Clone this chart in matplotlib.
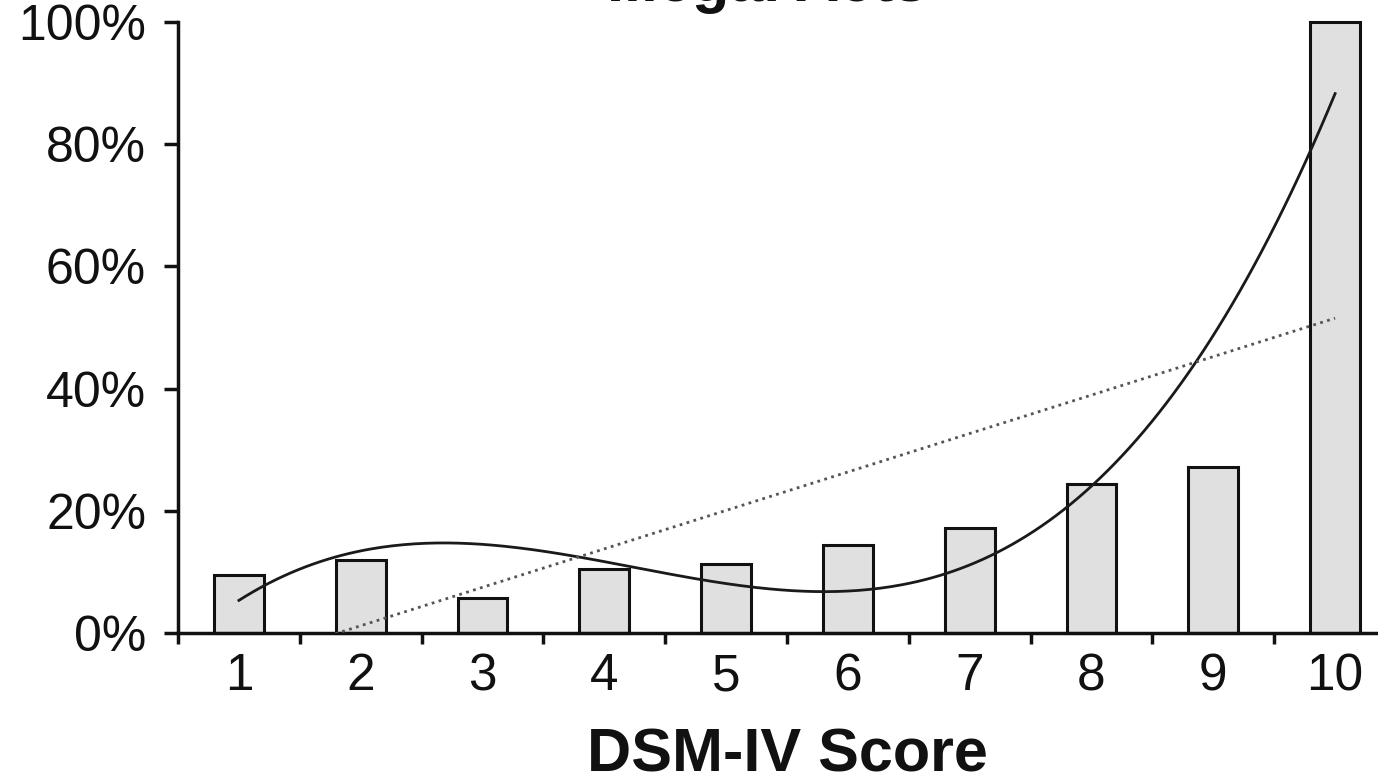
import numpy as np
import matplotlib.pyplot as plt
from matplotlib.ticker import FixedLocator, FuncFormatter

plt.rcParams['font.family'] = ['Liberation Sans', 'DejaVu Sans']

# data
scores = [1, 2, 3, 4, 5, 6, 7, 8, 9, 10]
share = [9.5, 11.9, 5.7, 10.5, 11.3, 14.4, 17.2, 24.4, 27.2, 100.0]  # percent
title = "Illegal Acts"
xlabel = "DSM-IV Score"

W, H = 1378, 783
fig = plt.figure(figsize=(W / 100, H / 100), dpi=100)

# axes runs past the right edge like in the cropped original
ax = fig.add_axes([178 / W, (H - 633) / H, (1396 - 178) / W, (633 - 22) / H])

x = np.array(scores, dtype=float)
y = np.array(share) / 100.0

ax.bar(x, y, width=0.41, color='#e0e0e0', edgecolor='#111111',
       linewidth=2.2, clip_on=False, zorder=2)

# trend lines (excel style): cubic polynomial + linear
xs = np.linspace(1, 10, 300)
cubic = np.polyval(np.polyfit(x, y, 3), xs)
lin = np.polyval(np.polyfit(x, y, 1), xs)
ax.plot(xs, cubic, color='#1a1a1a', linewidth=2.0, zorder=3)
ax.plot(xs, lin, color='#555555', linewidth=2.0, linestyle=(0, (1, 1.6)), zorder=3)

ax.set_xlim(0.5, 10.5)
ax.set_ylim(0, 1.0)

for s in ['top', 'right']:
    ax.spines[s].set_visible(False)
for s in ['left', 'bottom']:
    ax.spines[s].set_linewidth(2.5)
    ax.spines[s].set_color('#111111')

ax.set_yticks(np.arange(0, 1.01, 0.2))
ax.yaxis.set_major_formatter(FuncFormatter(lambda v, p: f"{v * 100:.0f}%"))
ax.tick_params(axis='y', direction='out', length=10, width=2.5, color='#111111',
               labelsize=36, pad=13, labelcolor='#111111')

ax.xaxis.set_major_locator(FixedLocator(np.arange(0.5, 11, 1)))
ax.xaxis.set_major_formatter(FuncFormatter(lambda v, p: ""))
ax.xaxis.set_minor_locator(FixedLocator(x))
ax.xaxis.set_minor_formatter(FuncFormatter(lambda v, p: f"{v:.0f}"))
ax.tick_params(axis='x', which='major', direction='out', length=8, width=2.5, color='#111111')
ax.tick_params(axis='x', which='minor', length=0, labelsize=37, pad=14, labelcolor='#111111')

ax.set_xlabel(xlabel, fontsize=44, fontweight='bold', labelpad=19, color='#111111')
# title is cut by the top edge in the original, only its lower part shows
fig.text(767 / W, 1 - 1 / H, title, ha='center', va='baseline',
         fontsize=44, fontweight='bold', color='#111111')

fig.savefig('out.png', dpi=100)
